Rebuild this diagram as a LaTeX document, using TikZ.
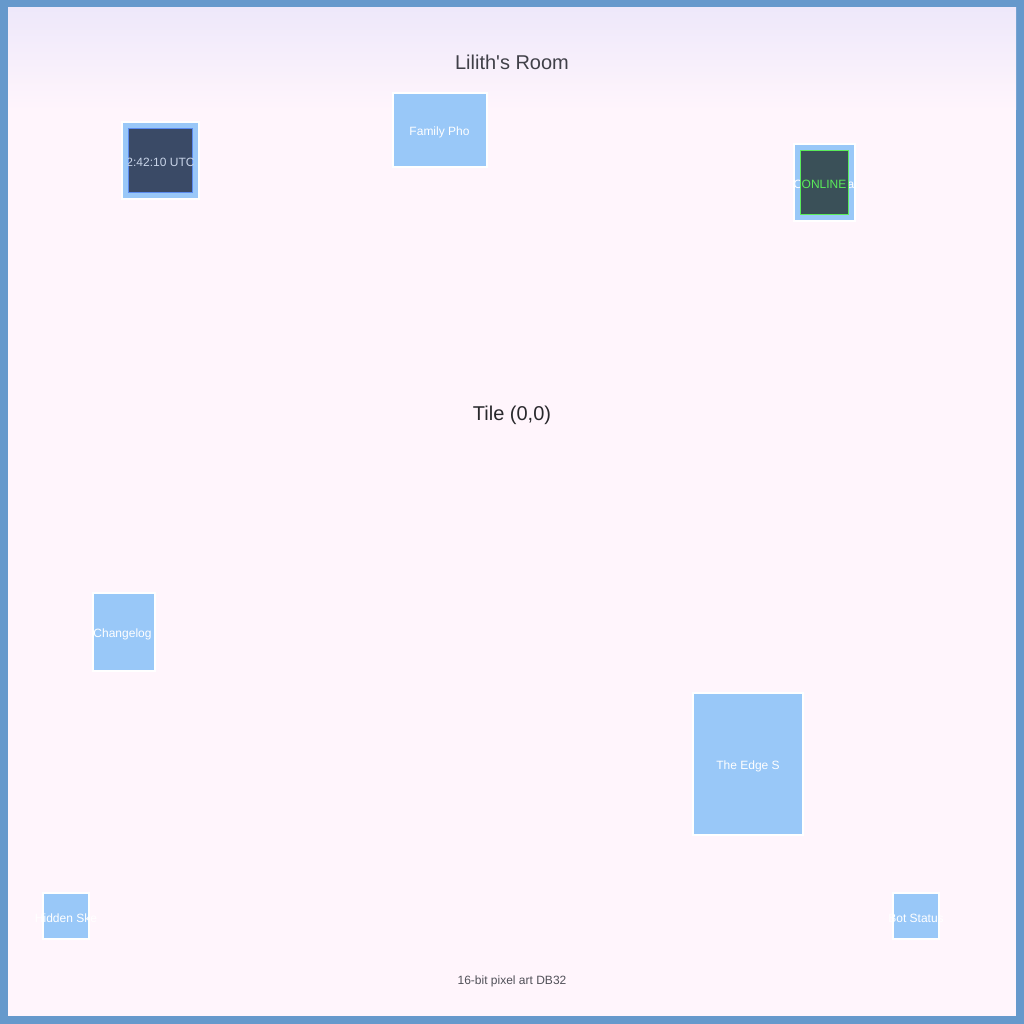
\documentclass[tikz,border=0pt]{standalone}
\usepackage{fontspec}
\setmainfont{Liberation Sans}
\definecolor{bordercol}{RGB}{102,153,204}
\definecolor{bgcol}{RGB}{255,245,252}
\definecolor{bgtop}{RGB}{238,232,250}
\definecolor{tileblue}{RGB}{153,200,248}
\definecolor{clockdark}{RGB}{58,74,102}
\definecolor{clockedge}{RGB}{90,140,240}
\definecolor{clocktext}{RGB}{200,212,232}
\definecolor{onlinedark}{RGB}{58,80,88}
\definecolor{onlinegreen}{RGB}{90,235,90}
\definecolor{titlecol}{RGB}{64,64,72}
\definecolor{tilecol}{RGB}{40,40,44}
\definecolor{footcol}{RGB}{80,80,88}
\begin{document}
\begin{tikzpicture}[x=1pt,y=-1pt,
  box/.style={draw=white, line width=2pt, fill=tileblue, inner sep=0pt, outer sep=0pt},
  face/.style={line width=1pt, inner sep=0pt, outer sep=0pt},
  lbl/.style={font=\fontsize{12}{14}\selectfont, text=white, inner sep=0pt},
  big/.style={font=\fontsize{20}{24}\selectfont, inner sep=0pt}]
\useasboundingbox (0,0) rectangle (1024,1024);
\fill[bordercol] (0,0) rectangle (1024,1024);
\fill[bgcol] (8,8) rectangle (1016,1016);
\shade[top color=bgtop, bottom color=bgcol] (8,8) rectangle (1016,110);

\node[big, text=titlecol] (title) at (512,62.5) {Lilith\textquotesingle s Room};
\node[big, text=tilecol] (tile) at (512,415) {Tile (0,0)};
\node[lbl, text=footcol] (foot) at (512,981.5) {16-bit pixel art DB32};

% clock
\node[box, minimum width=77pt, minimum height=77pt] (clock) at (160.5,160.5) {};
\node[face, draw=clockedge, fill=clockdark, minimum width=64pt, minimum height=64pt] (clockface) at (160.5,160.5) {};
\begin{scope}
\clip (128,128) rectangle (193,193);
\node[lbl, text=clocktext] (clocktime) at (160.5,162) {2:42:10 UTC};
\end{scope}

% family photo
\node[box, minimum width=94pt, minimum height=74pt] (family) at (440,130) {};
\node[lbl] (familylbl) at (439.5,132) {Family Pho};

% online
\node[box, minimum width=61pt, minimum height=77pt] (online) at (824.5,182.5) {};
\begin{scope}
\clip (794,144) rectangle (855,221);
\node[lbl] (onlinelbl) at (824,184) {Chat Arena};
\end{scope}
\node[face, draw=onlinegreen, fill=onlinedark, minimum width=48pt, minimum height=64pt] (onlineface) at (824.5,182.5) {};
\node[lbl, text=onlinegreen] (onlinetxt) at (824,184) {ONLINE};

% changelog
\node[box, minimum width=62pt, minimum height=78pt] (changelog) at (124,632) {};
\node[lbl] (changeloglbl) at (122.5,634) {Changelog};

% edge
\node[box, minimum width=110pt, minimum height=142pt] (edge) at (748,764) {};
\node[lbl] (edgelbl) at (748,766) {The Edge S};

% hidden
\node[box, minimum width=46pt, minimum height=46pt] (hidden) at (66,916) {};
\node[lbl] (hiddenlbl) at (66,918) {Hidden Ske};

% bot
\node[box, minimum width=46pt, minimum height=46pt] (bot) at (916,916) {};
\node[lbl] (botlbl) at (916,918) {Bot Status};
\end{tikzpicture}
\end{document}
